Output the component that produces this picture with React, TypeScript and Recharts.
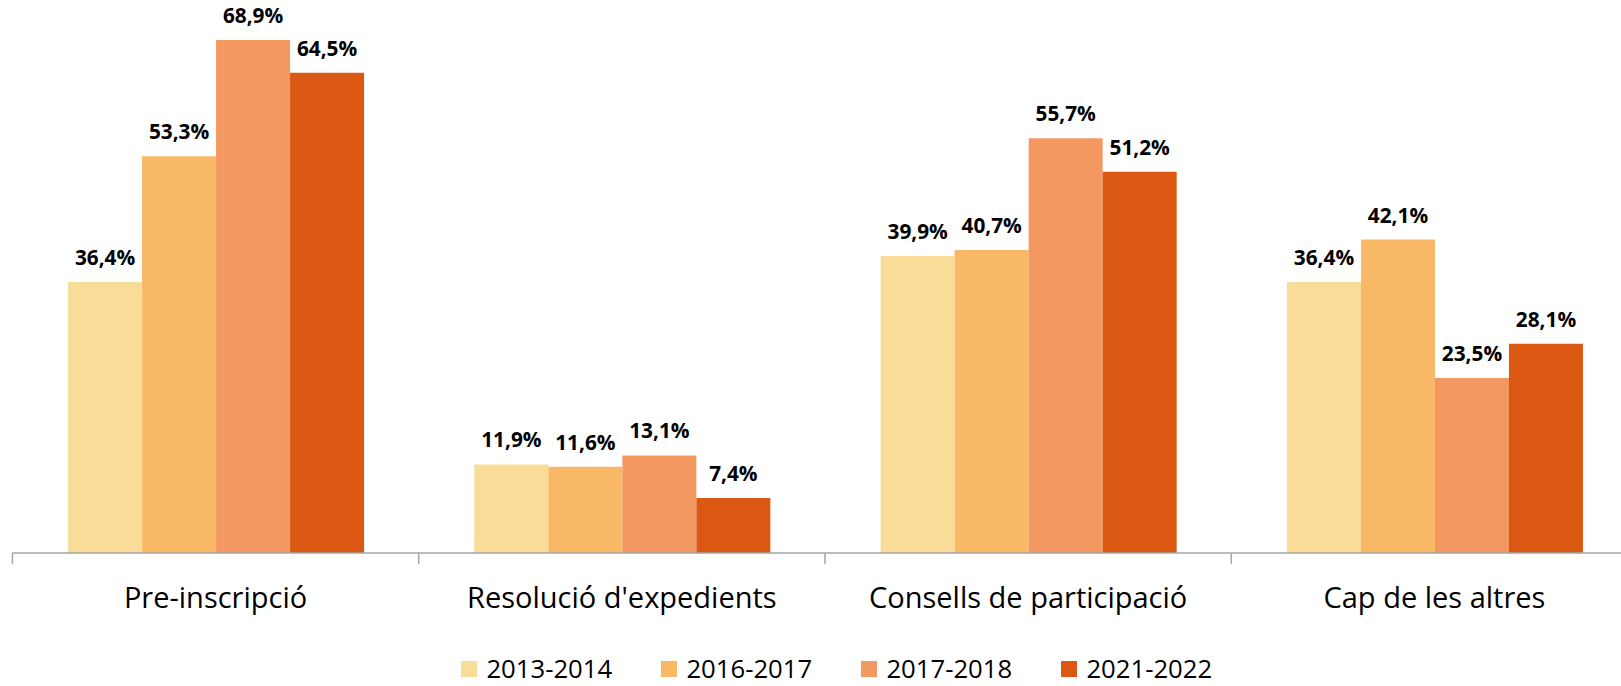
import React from "react";
import { BarChart, Bar, XAxis, YAxis, LabelList, Legend } from "recharts";

const categories = ["Pre-inscripció", "Resolució d'expedients", "Consells de participació", "Cap de les altres"];
const years = ["2013-2014", "2016-2017", "2017-2018", "2021-2022"];
const y2013 = [36.4, 11.9, 39.9, 36.4];
const y2016 = [53.3, 11.6, 40.7, 42.1];
const y2017 = [68.9, 13.1, 55.7, 23.5];
const y2021 = [64.5, 7.4, 51.2, 28.1];
const colors = ["#F9DC98", "#F9B866", "#F49862", "#DA5811"];

const series = [y2013, y2016, y2017, y2021];
const data = categories.map((name, i) => {
  const row: Record<string, string | number> = { name };
  years.forEach((yr, s) => (row[yr] = series[s][i]));
  return row;
});

const FONT = '"Open Sans", "Noto Sans", sans-serif';
const fmt = (v: any) => `${Number(v).toFixed(1).replace(".", ",")}%`;

// category label centred in the band, boundary tick marks at the band edges
function CategoryTick(props: any) {
  const { x, y, payload, index, visibleTicksCount } = props;
  const half = 406.3 / 2;
  return (
    <g>
      <line x1={x - half} x2={x - half} y1={y} y2={y + 11} stroke="#A6A6A6" strokeWidth={1.5} />
      {index === visibleTicksCount - 1 && (
        <line x1={x + half} x2={x + half} y1={y} y2={y + 11} stroke="#A6A6A6" strokeWidth={1.5} />
      )}
      <text x={x} y={y + 55} textAnchor="middle" fontSize={29} fontFamily={FONT} fill="#000">
        {payload.value}
      </text>
    </g>
  );
}

function LegendBox() {
  return (
    <div style={{ height: 53, position: "relative", fontFamily: FONT }}>
      <div style={{ position: "absolute", left: 449, top: 18, height: 35, display: "flex" }}>
        {years.map((yr, i) => (
          <div key={yr} style={{ width: 200, height: 35, display: "flex", alignItems: "center" }}>
            <span style={{ width: 16, height: 16, background: colors[i], display: "inline-block", marginRight: 9 }} />
            <span style={{ display: "block", fontSize: 25.7, lineHeight: "35px", height: 35, color: "#000" }}>{yr}</span>
          </div>
        ))}
      </div>
    </div>
  );
}

export default function App() {
  return (
    <div style={{ position: "absolute", left: 0, top: 0, width: 1621, height: 686, overflow: "hidden", background: "#fff" }}>
      <BarChart
        width={1650}
        height={686}
        data={data}
        margin={{ top: 17, right: 12.4, bottom: 0, left: 12.4 }}
        barCategoryGap="13.7%"
        barGap={0}
      >
        <XAxis
          dataKey="name"
          axisLine={{ stroke: "#A6A6A6", strokeWidth: 1.5 }}
          tickLine={false}
          tickSize={0}
          tickMargin={0}
          height={80}
          interval={0}
          tick={<CategoryTick />}
        />
        <YAxis hide domain={[0, 72]} />
        <Legend verticalAlign="bottom" content={<LegendBox />} />
        {years.map((yr, i) => (
          <Bar key={yr} dataKey={yr} fill={colors[i]} isAnimationActive={false}>
            <LabelList
              dataKey={yr}
              position="top"
              offset={17}
              formatter={fmt}
              style={{ fontFamily: FONT, fontSize: 20.8, fontWeight: 700, fill: "#000" }}
            />
          </Bar>
        ))}
      </BarChart>
    </div>
  );
}
